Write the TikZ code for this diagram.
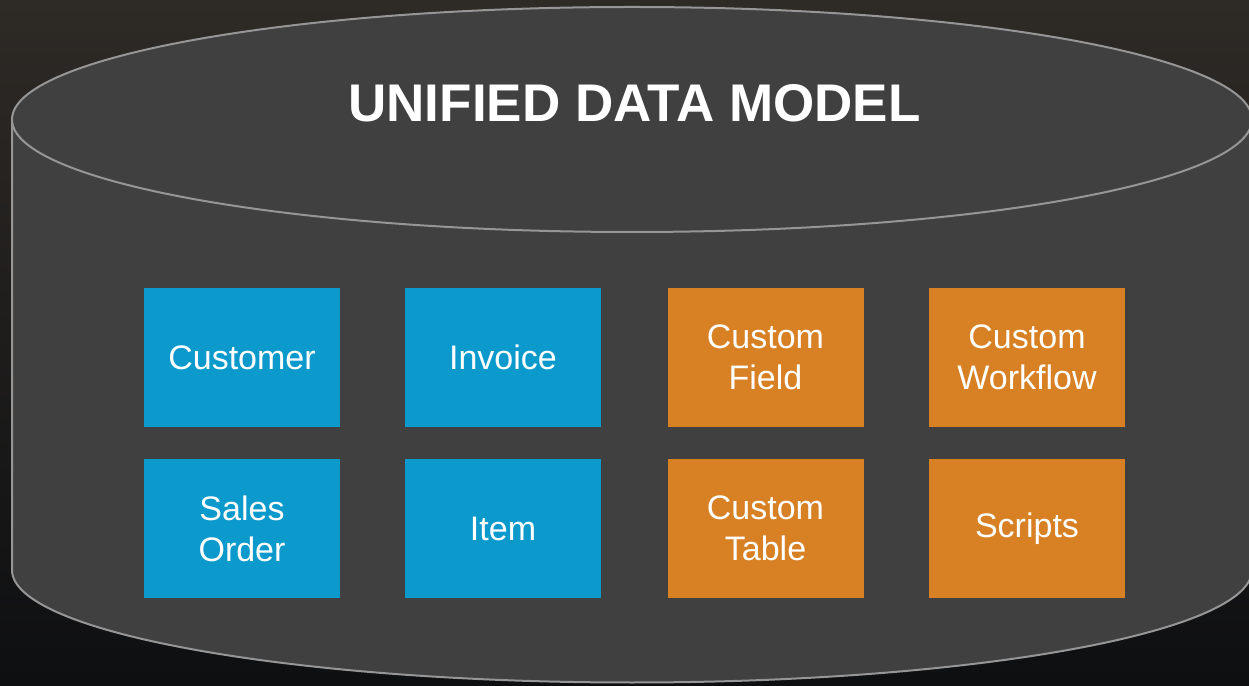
\documentclass[tikz,border=0pt]{standalone}
\usepackage{fontspec}
\setmainfont{Liberation Sans}
\usepackage{tikz}
\definecolor{udmblue}{RGB}{12,154,205}
\definecolor{udmorange}{RGB}{216,128,36}
\definecolor{udmgray}{RGB}{64,64,64}
\definecolor{udmedge}{RGB}{150,150,150}
\definecolor{bgtop}{RGB}{46,42,38}
\definecolor{bgbottom}{RGB}{14,15,17}

\begin{document}
\begin{tikzpicture}[x=1pt, y=1pt,
    block/.style={rectangle, minimum width=196pt, minimum height=139pt, inner sep=0pt, align=center, text=white, font=\fontsize{34}{41}\selectfont},
    core/.style={block, fill=udmblue},
    custom/.style={block, fill=udmorange},
    rim/.style={draw=udmedge, line width=2pt}
]
    \useasboundingbox (0,0) rectangle (1249,685);

    % Background
    \fill[top color=bgtop, bottom color=bgbottom] (0,0) rectangle (1249,685);

    % Cylinder
    \fill[udmgray] (12,565.5) -- (12,115) arc[start angle=180, end angle=360, x radius=620, y radius=112.5] -- (1252,565.5) -- cycle;
    \draw[rim] (12,565.5) -- (12,115) arc[start angle=180, end angle=360, x radius=620, y radius=112.5] -- (1252,565.5);
    \filldraw[rim, fill=udmgray] (632,565.5) ellipse[x radius=620, y radius=112.5];

    % Title
    \node[anchor=base, text=white, font=\fontsize{53}{60}\selectfont\bfseries] (title) at (634.5,563) {UNIFIED DATA MODEL};

    % Standard records
    \node[core] (customer) at (242,327.5) {Customer};
    \node[core] (invoice) at (503,327.5) {Invoice};
    \node[core] (order) at (242,156.5) {Sales\\Order};
    \node[core] (item) at (503,156.5) {Item};

    % Customisations
    \node[custom] (field) at (765.5,327.5) {Custom\\Field};
    \node[custom] (workflow) at (1027,327.5) {Custom\\Workflow};
    \node[custom] (table) at (765.5,156.5) {Custom\\Table};
    \node[custom] (scripts) at (1027,156.5) {Scripts};
\end{tikzpicture}
\end{document}
